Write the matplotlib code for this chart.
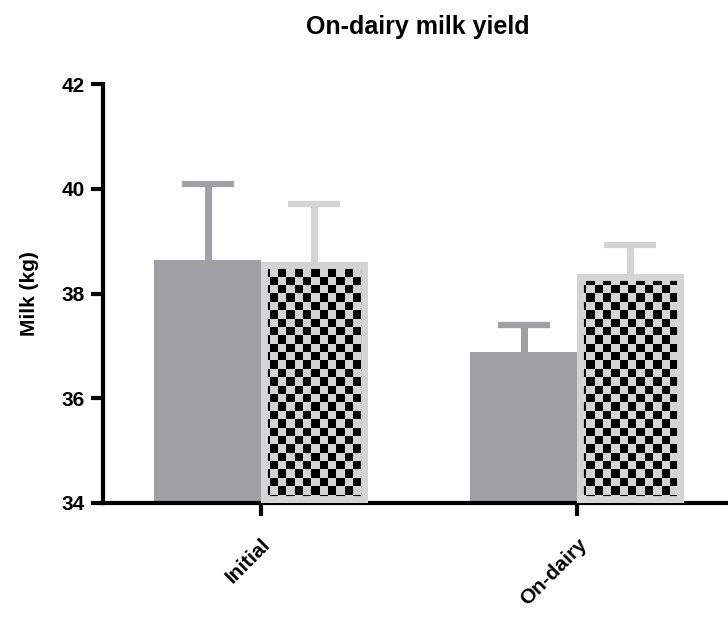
import numpy as np
import matplotlib
matplotlib.use("Agg")
import matplotlib.pyplot as plt
from matplotlib.colors import ListedColormap

categories = ["Initial", "On-dairy"]
series_a = [38.64, 36.88]      # solid grey bars
series_a_err = [1.45, 0.52]
series_b = [38.60, 38.37]      # checker bars
series_b_err = [1.10, 0.55]
yticks = [34, 36, 38, 40, 42]
base = 34

plt.rcParams['font.family'] = ['Liberation Sans', 'DejaVu Sans']
plt.rcParams['font.weight'] = 'bold'

fig = plt.figure(figsize=(7.28, 6.28), dpi=100)
ax = fig.add_axes([103/728, 125/628, 625/728, 419/628])

x = np.arange(len(categories))
w = 0.338
grey = '#a09fa4'
light = '#d4d4d4'

for xs, vals, errs, col in [(x - w/2, series_a, series_a_err, grey),
                            (x + w/2, series_b, series_b_err, light)]:
    eb = ax.errorbar(xs, vals, yerr=[np.zeros(len(vals)), errs], fmt='none',
                     ecolor=col, elinewidth=5, capsize=19, capthick=4.5, zorder=1)
    eb[1][0].set_visible(False)

hb_a = [v - base for v in series_a]
hb_b = [v - base for v in series_b]
ax.bar(x - w/2, hb_a, width=w, bottom=base, color=grey, linewidth=0, zorder=2)
bars_b = ax.bar(x + w/2, hb_b, width=w, bottom=base, color=light,
                edgecolor='none', linewidth=0, zorder=2)

# checker fill clipped to each bar
ncx, ncy = int(625/8.3), int(419/8.3)
chk = (np.add.outer(np.arange(ncy), np.arange(ncx)) % 2).astype(float)
cmap = ListedColormap([light, '#000000'])
for b in bars_b:
    im = ax.imshow(chk, cmap=cmap, extent=[0, 1, 0, 1], transform=ax.transAxes,
                   interpolation='nearest', aspect='auto', zorder=3)
    im.set_clip_path(b)
outl = ax.bar(x + w/2, hb_b, width=w, bottom=base, facecolor='none',
              edgecolor=light, linewidth=10, zorder=4)
for p in outl:
    p.set_clip_path(p)

ax.set_ylim(34, 42)
ax.set_xlim(-0.5, 1.478)
ax.set_yticks(yticks)
ax.set_xticks(x)
ax.set_xticklabels(categories, rotation=45, ha='right', va='top',
                   rotation_mode='anchor', fontsize=15, fontweight='bold')
ax.tick_params(axis='y', labelsize=15, width=3, length=9, pad=4)
ax.tick_params(axis='x', width=3, length=9, pad=14)
for t in ax.get_yticklabels():
    t.set_fontweight('bold')
ax.spines['top'].set_visible(False)
ax.spines['right'].set_visible(False)
ax.spines['left'].set_linewidth(3)
ax.spines['bottom'].set_linewidth(3)
ax.set_ylabel("Milk (kg)", fontsize=15, fontweight='bold', labelpad=16)
fig.text(418/728, 1 - 27/628, "On-dairy milk yield", fontsize=18,
         fontweight='bold', ha='center', va='center')

fig.savefig("out.png", dpi=100)
